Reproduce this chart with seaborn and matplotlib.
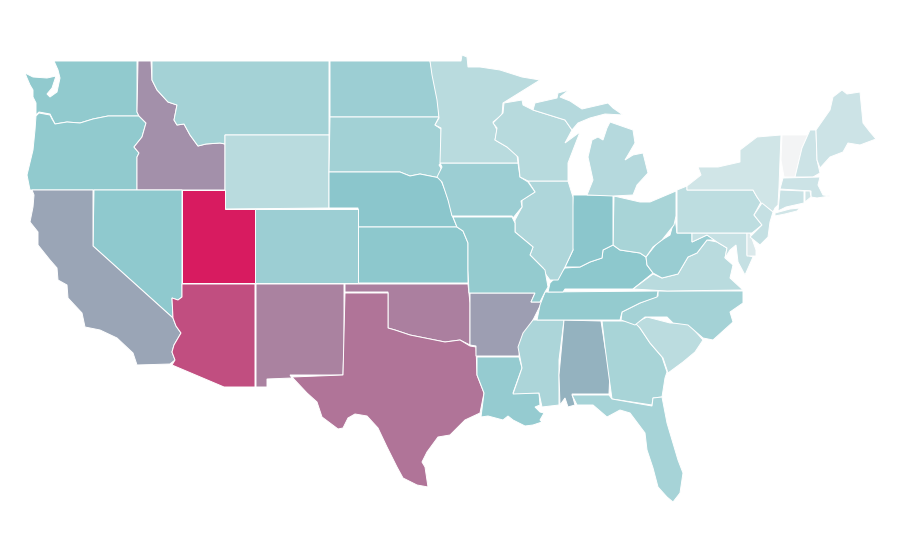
import matplotlib
matplotlib.use("Agg")
import matplotlib.pyplot as plt
import seaborn as sns

# state outlines (x, y)
WA = [(54,61),(137,61),(137,112),(139,116),(108,116),(93,119),(80,123),(67,122),(55,124),(52,118),(50,114),(39,112),(36,115),(36,103),(33,97),(33,90),(30,85),(27,78),(25,73),(33,77),(47,78),(56,76),(52,88),(47,94),(50,97),(57,92),(60,78),(58,70)]
OR = [(36,116),(39,113),(50,115),(52,119),(55,124),(67,122),(80,123),(93,119),(108,116),(139,116),(146,123),(142,137),(134,147),(139,153),(137,157),(137,190),(30,190),(27,175),(33,150),(35,130)]
ID = [(138,61),(151,61),(152,80),(157,90),(168,102),(177,105),(174,120),(177,125),(184,124),(190,135),(198,146),(206,144),(220,143),(225,144),(225,190),(137,190),(137,157),(139,153),(134,147),(142,137),(146,123),(139,116),(137,112)]
MT = [(152,61),(329,61),(329,135),(225,135),(225,144),(220,143),(206,144),(198,146),(190,135),(184,124),(177,125),(174,120),(177,105),(168,102),(157,90),(152,80)]
WY = [(225,135),(329,135),(329,208),(225,209)]
ND = [(330,61),(430,61),(433,75),(436,90),(438,100),(439,117),(330,117)]
SD = [(330,117),(439,117),(435,125),(441,129),(441,163),(439,165),(441,168),(440,178),(430,176),(420,174),(410,176),(400,172),(329,172)]
NE = [(329,172),(400,172),(410,176),(420,174),(430,176),(440,178),(445,190),(450,205),(452,215),(457,227),(358,227),(358,208),(329,208)]
KS = [(358,227),(457,227),(463,231),(468,243),(468,283),(358,283)]
CO = [(255,209),(358,209),(358,283),(255,283)]
UT = [(182,190),(225,190),(225,209),(255,209),(255,283),(182,283)]
NV = [(94,190),(182,190),(182,297),(178,300),(172,298),(173,318),(93,246)]
CA = [(32,190),(93,190),(93,246),(173,318),(176,326),(181,333),(174,345),(172,352),(175,360),(170,364),(137,365),(133,353),(117,338),(100,330),(85,327),(82,313),(68,298),(67,285),(58,280),(57,268),(50,260),(38,245),(38,232),(30,222),(33,207),(34,195)]
AZ = [(182,284),(255,284),(255,387),(224,387),(172,365),(175,360),(172,352),(174,345),(181,333),(176,326),(173,318),(172,298),(178,300),(182,297)]
NM = [(256,284),(344,284),(344,343),(343,375),(290,375),(292,378),(267,379),(267,387),(256,387)]
OK = [(345,284),(468,284),(470,303),(470,345),(460,340),(445,342),(425,338),(410,335),(395,330),(388,328),(388,292),(345,292)]
TX = [(345,293),(388,293),(388,328),(395,330),(410,335),(425,338),(445,342),(460,340),(470,346),(476,347),(477,375),(484,393),(480,413),(465,420),(450,435),(438,437),(427,452),(422,462),(425,467),(428,487),(417,485),(403,478),(397,467),(387,447),(378,428),(367,416),(355,414),(348,418),(343,428),(338,429),(322,417),(317,402),(307,393),(292,377),(343,375)]
AR = [(470,293),(535,293),(531,302),(542,302),(533,320),(527,332),(520,345),(519,356),(476,356),(476,346),(470,345)]
LA = [(477,357),(519,357),(522,368),(513,393),(539,393),(540,405),(535,407),(540,412),(544,413),(540,420),(548,428),(542,422),(533,425),(525,426),(513,420),(508,416),(503,420),(488,416),(481,417),(484,393),(477,375)]
MS = [(533,320),(564,320),(559,360),(559,405),(542,407),(539,393),(513,394),(522,368),(518,347),(523,333)]
AL = [(564,320),(601,321),(605,347),(610,370),(609,394),(572,394),(575,405),(568,407),(565,398),(560,405),(559,375)]
GA = [(602,321),(635,321),(640,328),(650,343),(662,357),(667,372),(665,378),(662,397),(653,398),(652,405),(612,399),(609,377),(605,347)]
FL = [(572,395),(609,395),(612,399),(652,406),(653,398),(662,397),(667,423),(678,460),(683,473),(680,493),(673,502),(667,497),(658,487),(653,468),(647,450),(645,433),(630,413),(620,410),(607,417),(593,405),(577,405)]
SC = [(635,323),(647,317),(670,323),(688,323),(703,340),(695,352),(683,362),(668,373),(663,358),(650,343),(640,328)]
NC = [(667,291),(743,291),(743,303),(730,312),(733,322),(713,340),(703,338),(688,325),(673,323),(667,317),(645,317),(635,325),(621,320),(622,312),(640,303),(658,296),(658,291)]
TN = [(545,292),(658,291),(657,297),(640,303),(622,312),(620,320),(537,320),(540,305)]
KY = [(548,292),(550,283),(565,268),(580,267),(590,262),(602,258),(603,250),(613,245),(620,250),(640,253),(646,257),(647,265),(653,273),(633,289),(565,289),(563,292)]
VA = [(633,289),(653,274),(662,278),(678,274),(688,257),(697,253),(707,240),(717,242),(727,248),(725,258),(733,265),(730,278),(743,290),(667,291)]
WV = [(646,257),(657,243),(670,235),(675,217),(677,233),(692,233),(692,242),(707,235),(715,240),(707,240),(697,253),(688,257),(678,274),(662,278),(653,273),(647,265)]
MD = [(692,233),(747,233),(747,255),(753,257),(745,275),(738,262),(736,245),(730,250),(725,258),(727,248),(717,242),(707,235),(692,242)]
DE = [(747,233),(750,233),(756,250),(756,256),(747,256)]
PA = [(677,190),(687,186),(687,190),(753,190),(757,197),(761,202),(754,215),(762,225),(752,233),(677,233)]
NY = [(687,190),(687,186),(701,175),(698,167),(718,167),(740,162),(740,150),(757,137),(781,135),(780,160),(779,187),(778,205),(775,208),(773,212),(761,203),(757,197),(753,190)]
LI = [(775,213),(790,209),(800,208),(797,211),(785,214),(775,216)]
NJ = [(762,203),(773,212),(770,222),(768,237),(760,245),(750,237),(762,225),(754,215)]
VT = [(782,135),(808,135),(802,148),(795,177),(784,177),(781,160)]
NH = [(810,130),(816,130),(817,160),(820,173),(813,177),(795,177),(802,148)]
ME = [(816,130),(830,110),(833,97),(842,90),(847,94),(860,92),(863,123),(870,132),(876,139),(860,145),(848,143),(843,152),(830,157),(820,168),(817,160)]
MA = [(783,178),(820,177),(818,185),(823,195),(830,196),(817,198),(811,197),(811,191),(780,189)]
RI = [(805,191),(810,191),(811,197),(805,202)]
CT = [(780,190),(804,191),(804,203),(786,207),(778,211)]
OH = [(614,196),(640,202),(650,202),(676,191),(676,216),(674,225),(662,240),(653,247),(646,257),(640,253),(620,250),(613,245)]
IN = [(573,195),(613,195),(613,245),(603,250),(602,258),(590,262),(580,267),(565,267),(573,250),(571,242)]
IL = [(528,181),(568,181),(573,197),(573,250),(565,267),(558,280),(550,280),(544,272),(543,268),(530,255),(533,247),(527,242),(515,232),(515,220),(522,207),(522,200),(535,192)]
IA = [(440,163),(518,163),(520,177),(528,182),(535,192),(521,201),(522,207),(513,218),(512,216),(452,216),(448,200),(442,182),(437,177),(442,167)]
MO = [(453,217),(512,217),(515,223),(515,232),(527,242),(533,247),(530,255),(545,270),(548,287),(545,292),(540,302),(531,302),(535,293),(469,293),(468,270),(468,243),(463,231),(457,227)]
MN = [(430,61),(461,61),(462,55),(467,57),(468,67),(480,67),(500,70),(522,77),(540,80),(503,103),(502,115),(493,122),(497,130),(495,140),(507,147),(517,155),(518,163),(440,163),(441,128),(435,125),(439,118),(437,100),(432,75)]
WI = [(504,103),(522,100),(523,105),(533,110),(565,120),(572,130),(565,143),(580,132),(568,163),(568,181),(528,181),(520,177),(518,157),(507,147),(495,140),(497,128),(493,123),(503,113)]
MI_UP = [(533,110),(535,103),(557,98),(558,93),(569,90),(560,97),(570,101),(582,109),(608,103),(613,108),(623,115),(605,114),(590,118),(578,123),(572,130),(565,120)]
MI_LP = [(610,122),(633,130),(635,143),(628,155),(625,160),(633,155),(643,153),(648,173),(637,185),(633,195),(613,196),(587,195),(593,180),(588,157),(592,140),(598,137),(603,140),(607,128)]

state_shapes = [WA,OR,ID,MT,WY,ND,SD,NE,KS,CO,UT,NV,CA,AZ,NM,OK,TX,AR,LA,MS,AL,GA,FL,SC,NC,TN,KY,VA,WV,MD,DE,PA,NY,LI,NJ,VT,NH,ME,MA,RI,CT,OH,IN,IL,IA,MO,MN,WI,MI_UP,MI_LP]
state_values = [.47,.47,.66,.38,.28,.42,.39,.50,.49,.42,1.0,.48,.60,.85,.70,.71,.74,.62,.45,.34,.56,.36,.37,.27,.38,.46,.49,.28,.43,.22,.12,.26,.17,.17,.22,0,.19,.19,.19,.17,.2,.36,.50,.33,.42,.46,.28,.29,.30,.30]

sns.set_theme(style="white")
cmap = sns.blend_palette(["#f3f4f5", "#8bc7cc", "#d81b60"], as_cmap=True)

fig, ax = plt.subplots(figsize=(9, 5.6), dpi=100)
ax.set_position([0, 0, 1, 1])
for shape, val in zip(state_shapes, state_values):
    xs = [p[0] for p in shape]
    ys = [p[1] for p in shape]
    ax.fill(xs, ys, facecolor=cmap(val), edgecolor="white", linewidth=0.7)

ax.set_xlim(0, 900)
ax.set_ylim(560, 0)
ax.axis("off")
fig.savefig("out.png", dpi=100, facecolor="white")
